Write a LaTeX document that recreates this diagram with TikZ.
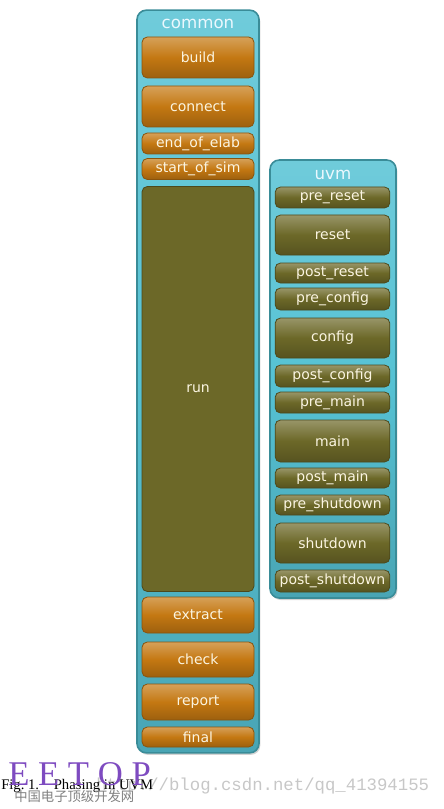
\documentclass[tikz,border=0pt]{standalone}
\usepackage{fontspec}
\setmainfont{Liberation Serif}
\setsansfont{DejaVu Sans}
\newfontfamily\cjk{Noto Sans CJK SC}
\newfontfamily\urlmono{Liberation Mono}
\usetikzlibrary{shadows}
\definecolor{phaseorange}{HTML}{C47812}
\definecolor{phaseolive}{HTML}{6C6828}
\definecolor{groupfill}{HTML}{56C2D4}
\definecolor{groupedge}{HTML}{3A8C98}
\definecolor{labelcream}{HTML}{FBF5E2}
\definecolor{eetoppurple}{HTML}{7E4BC0}

\begin{document}
\begin{tikzpicture}[x=0.75pt, y=-0.75pt,
    group/.style={draw=groupedge, line width=1.2pt, top color=groupfill!85!white, bottom color=groupfill!85!black, middle color=groupfill, rounded corners=7pt, inner sep=0pt, drop shadow={opacity=0.35, shadow xshift=1pt, shadow yshift=-1.5pt}},
    grouptitle/.style={font=\sffamily\fontsize{12.5}{14}\selectfont, text=white!92!cyan},
    phase/.style={draw=#1!70!black, line width=0.6pt, top color=#1!70!white, bottom color=#1!80!black, middle color=#1, rounded corners=4pt, inner sep=0pt, text=labelcream, font=\sffamily\fontsize{10.5}{12}\selectfont},
    common/.style={phase=phaseorange, minimum width=84pt},
    commonrun/.style={draw=phaseolive!70!black, line width=0.6pt, fill=phaseolive, rounded corners=4pt, inner sep=0pt, text=labelcream, font=\sffamily\fontsize{10.5}{12}\selectfont, minimum width=84pt},
    uvm/.style={phase=phaseolive, minimum width=86pt},
    ht/.style={minimum height=#1*0.75pt}
]
\useasboundingbox (0,0) rectangle (443,809);

% common group
\node[group, minimum width=91.5pt, minimum height=557pt] (commonbox) at (198,381.5) {};
\node[grouptitle] (commontitle) at (198,24) {common};

\node[common, ht=41] (build) at (198,57.5) {build};
\node[common, ht=41] (connect) at (198,106.5) {connect};
\node[common, ht=21] (endofelab) at (198,143.5) {end\_of\_elab};
\node[common, ht=21] (startofsim) at (198,169) {start\_of\_sim};
\node[commonrun, ht=405] (run) at (198,389) {run};
\node[common, ht=36] (extract) at (198,615) {extract};
\node[common, ht=35] (check) at (198,659.5) {check};
\node[common, ht=36] (report) at (198,702) {report};
\node[common, ht=20] (final) at (198,737) {final};

% uvm group
\node[group, minimum width=94.5pt, minimum height=328.5pt] (uvmbox) at (333,379) {};
\node[grouptitle] (uvmtitle) at (333,175) {uvm};

\node[uvm, ht=21] (prereset) at (332.5,197.5) {pre\_reset};
\node[uvm, ht=40] (reset) at (332.5,235) {reset};
\node[uvm, ht=20] (postreset) at (332.5,273) {post\_reset};
\node[uvm, ht=22] (preconfig) at (332.5,299) {pre\_config};
\node[uvm, ht=40] (config) at (332.5,338) {config};
\node[uvm, ht=22] (postconfig) at (332.5,376) {post\_config};
\node[uvm, ht=21] (premain) at (332.5,402.5) {pre\_main};
\node[uvm, ht=42] (main) at (332.5,441) {main};
\node[uvm, ht=20] (postmain) at (332.5,478) {post\_main};
\node[uvm, ht=20] (preshutdown) at (332.5,505) {pre\_shutdown};
\node[uvm, ht=40] (shutdown) at (332.5,543) {shutdown};
\node[uvm, ht=22] (postshutdown) at (332.5,581) {post\_shutdown};

% watermarks and caption
\node[anchor=west, inner sep=0pt, text=black!22, font=\urlmono\fontsize{13}{14}\selectfont] (weburl) at (96,786) {http://blog.csdn.net/qq\_41394155};
\node[anchor=west, inner sep=0pt, font=\fontsize{11}{13}\selectfont] (caption) at (1,786) {Fig.\ 1.\quad Phasing in UVM};
\node[anchor=west, inner sep=0pt, text=eetoppurple, font=\fontsize{26}{28}\selectfont] (eetop) at (8,774) {E E T O P};
\node[anchor=west, inner sep=0pt, text=black!50, font=\cjk\fontsize{10}{12}\selectfont] (eetopcn) at (14,796) {中国电子顶级开发网};

\end{tikzpicture}
\end{document}
